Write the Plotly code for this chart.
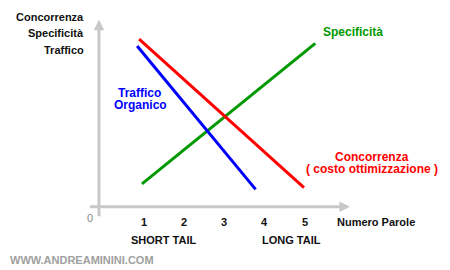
import plotly.graph_objects as go

# ---- data (x = Numero Parole, y = relative level) ----
traffico_x = [0.84, 3.78]
traffico_y = [9.45, 1.02]
concorrenza_x = [0.89, 4.98]
concorrenza_y = [9.86, 1.12]
specificita_x = [0.96, 5.26]
specificita_y = [1.34, 9.61]

tick_values = [1, 2, 3, 4, 5]
tick_labels = ["1", "2", "3", "4", "5"]
y_axis_labels = ["Concorrenza", "Specificità", "Traffico"]
tail_labels = ["SHORT TAIL", "LONG TAIL"]

FONT = "Liberation Sans, Arial, sans-serif"
RED = "#ff0000"
BLUE = "#0000ff"
GREEN = "#009900"
AXIS = "#c8c8c8"
W, H = 450, 270

fig = go.Figure()
for xs, ys, col in [(specificita_x, specificita_y, GREEN),
                    (concorrenza_x, concorrenza_y, RED),
                    (traffico_x, traffico_y, BLUE)]:
    fig.add_trace(go.Scatter(x=xs, y=ys, mode="lines",
                             line=dict(color=col, width=3),
                             hoverinfo="skip", showlegend=False))

def px(x):
    return x / W

def py(y):
    return 1 - y / H

ann = []
# axes with arrows (data coordinates)
ann.append(dict(x=6.12, y=0, ax=-0.37, ay=0, xref="x", yref="y", axref="x", ayref="y",
                showarrow=True, arrowhead=2, arrowsize=0.7, arrowwidth=3,
                arrowcolor=AXIS, text=""))
ann.append(dict(x=-0.107, y=11.0, ax=-0.107, ay=-0.65, xref="x", yref="y", axref="x", ayref="y",
                showarrow=True, arrowhead=2, arrowsize=0.7, arrowwidth=3,
                arrowcolor=AXIS, text=""))

def txt(text, x, y, size, color, xanchor="center", bold=True):
    t = f"<b>{text}</b>" if bold else text
    ann.append(dict(text=t, x=px(x), y=py(y), xref="paper", yref="paper",
                    xanchor=xanchor, yanchor="middle", showarrow=False,
                    font=dict(family=FONT, size=size, color=color)))

# tick labels via x scale
for v, lab in zip(tick_values, tick_labels):
    ann.append(dict(text=f"<b>{lab}</b>", x=v, y=py(221.5), xref="x", yref="paper",
                    xanchor="center", yanchor="middle", showarrow=False,
                    font=dict(family=FONT, size=11, color="#111111")))

txt("Numero Parole", 376, 221.5, 11, "#111111")
txt("0", 90, 217.5, 11, "#888888", bold=False)
txt(tail_labels[0], 163, 239.5, 11, "#111111")
txt(tail_labels[1], 291, 239.5, 11, "#111111")
txt("WWW.ANDREAMININI.COM", 8, 259.5, 11, "#a0a0a0", xanchor="left")

for lab, yy in zip(y_axis_labels, [17, 33, 49.5]):
    txt(lab, 86, yy, 11, "#111111", xanchor="right")

txt("Specificità", 353, 32.5, 12, GREEN)
txt("Traffico", 139.5, 93, 12, BLUE)
txt("Organico", 140, 104.5, 12, BLUE)
txt("Concorrenza", 372, 156.5, 12, RED)
txt("( costo ottimizzazione )", 372, 168.5, 12, RED)

fig.update_layout(
    width=W, height=H,
    margin=dict(l=0, r=0, t=0, b=0),
    paper_bgcolor="white", plot_bgcolor="white",
    xaxis=dict(range=[-2.563, 8.603], visible=False, fixedrange=True),
    yaxis=dict(range=[-3.724, 12.159], visible=False, fixedrange=True),
    annotations=ann,
    showlegend=False,
)
fig.write_html("out.html")
